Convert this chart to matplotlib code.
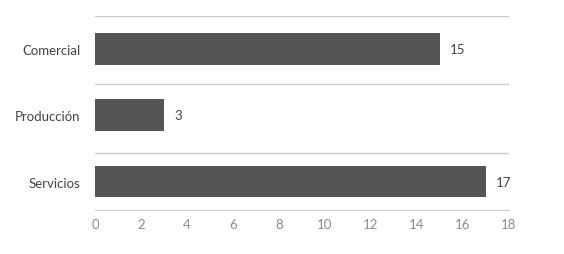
import matplotlib
matplotlib.use("Agg")
import matplotlib.pyplot as plt

categories = ["Comercial", "Producción", "Servicios"]
values = [15, 3, 17]
x_ticks = [0, 2, 4, 6, 8, 10, 12, 14, 16, 18]

plt.rcParams['font.family'] = ['Lato', 'DejaVu Sans']

fig = plt.figure(figsize=(5.64, 2.55), dpi=100)
ax = fig.add_axes([0.1684, 0.1725, 0.734, 0.761])

pos = list(range(len(categories)))
ax.barh(pos, values, height=0.48, color="#555555")

for p, v in zip(pos, values):
    ax.text(v + 0.45, p, str(v), va="center", ha="left", fontsize=9.5, color="#444444")

# separator lines between categories
for y in [-0.5, 0.53, 1.57]:
    ax.axhline(y, color="#cccccc", linewidth=1)

ax.set_xlim(0, 18)
ax.set_ylim(2.43, -0.5)
ax.set_xticks(x_ticks)
ax.set_yticks(pos)
ax.set_yticklabels(categories)

for s in ["top", "right", "left"]:
    ax.spines[s].set_visible(False)
ax.spines["bottom"].set_color("#cccccc")
ax.tick_params(axis="both", length=0)
ax.tick_params(axis="x", colors="#8c8c8c", labelsize=9.5, pad=6)
ax.tick_params(axis="y", colors="#444444", labelsize=9.5, pad=10.5)

fig.savefig("out.png", dpi=100)
